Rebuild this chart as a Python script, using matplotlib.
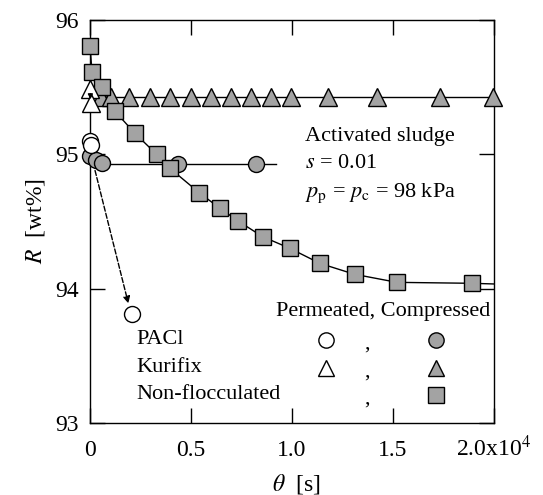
import matplotlib
matplotlib.use("Agg")
import matplotlib.pyplot as plt

plt.rcParams['font.family'] = ['Liberation Serif', 'DejaVu Serif']
plt.rcParams['mathtext.fontset'] = 'stix'

# Data (theta in s, R in wt%)
sq_x = [0, 100, 610, 1240, 2230, 3300, 3960, 5410, 6440, 7340, 8550, 9900, 11390, 13100, 15200, 18900]
sq_y = [95.81, 95.615, 95.50, 95.32, 95.156, 95.00, 94.896, 94.714, 94.598, 94.503, 94.387, 94.30, 94.188, 94.107, 94.047, 94.04]
fit_sq_x = sq_x + [20000]
fit_sq_y = sq_y + [94.035]

tri_c_x = [530, 1040, 1950, 2970, 3960, 4980, 5970, 6960, 7950, 8940, 9950, 11800, 14200, 17330, 19970]
tri_c_y = [95.43] * len(tri_c_x)
tri_line_x = [500, 20000]
tri_line_y = [95.43, 95.43]

tri_p_x = [0, 50]
tri_p_y = [95.49, 95.38]

circ_c_x = [0, 300, 580, 4370, 8220]
circ_c_y = [94.99, 94.958, 94.935, 94.928, 94.925]
circ_line_x = [580, 9200]
circ_line_y = [94.93, 94.93]

circ_p_x = [0, 30, 2060]
circ_p_y = [95.10, 95.07, 93.81]

x_ticks = [0, 5000, 10000, 15000, 20000]
x_tick_labels = ['0', '0.5', '1.0', '1.5', r'2.0x10$^4$']
y_ticks = [93, 94, 95, 96]
y_tick_labels = ['93', '94', '95', '96']

gray = '#a3a3a3'

fig = plt.figure(figsize=(5.43, 4.95), dpi=100)
ax = fig.add_axes([0.1657, 0.1455, 0.744, 0.814])

ms = 11.5
ax.plot(fit_sq_x, fit_sq_y, '-', color='black', lw=1.0, zorder=2)
ax.plot(tri_line_x, tri_line_y, '-', color='black', lw=1.0, zorder=2)
ax.plot(circ_line_x, circ_line_y, '-', color='black', lw=1.0, zorder=2)

ax.plot(tri_c_x, tri_c_y, '^', ms=ms + 1, mfc=gray, mec='black', mew=1.0, ls='none', clip_on=False, zorder=3)
ax.plot(circ_c_x, circ_c_y, 'o', ms=ms, mfc=gray, mec='black', mew=1.0, ls='none', clip_on=False, zorder=3)
ax.plot(sq_x, sq_y, 's', ms=ms, mfc=gray, mec='black', mew=1.0, ls='none', clip_on=False, zorder=4)
ax.plot(tri_p_x, tri_p_y, '^', ms=ms + 1, mfc='white', mec='black', mew=1.0, ls='none', clip_on=False, zorder=5)
ax.plot(circ_p_x, circ_p_y, 'o', ms=ms, mfc='white', mec='black', mew=1.0, ls='none', clip_on=False, zorder=5)

# dashed arrow from compressed PACl to shifted point
ax.annotate('', xy=(1900, 93.89), xytext=(250, 94.88),
            arrowprops=dict(arrowstyle='-|>', ls='--', color='black', lw=1.0,
                            mutation_scale=10, shrinkA=0, shrinkB=0))
# small solid arrow between permeated triangles
ax.annotate('', xy=(20, 95.41), xytext=(20, 95.45),
            arrowprops=dict(arrowstyle='-|>', color='black', lw=1.0,
                            mutation_scale=7, shrinkA=0, shrinkB=0), zorder=6)

ax.set_xlim(0, 20000)
ax.set_ylim(93, 96)
ax.set_xticks(x_ticks)
ax.set_xticklabels(x_tick_labels)
ax.set_yticks(y_ticks)
ax.set_yticklabels(y_tick_labels)
ax.tick_params(direction='in', length=11, width=1.0, labelsize=17, top=True, right=True)
ax.tick_params(axis='x', pad=24)
ax.tick_params(axis='y', pad=8)
for lbl in ax.get_xticklabels():
    lbl.set_verticalalignment('baseline')
for sp in ax.spines.values():
    sp.set_linewidth(1.0)

fig.text(0.545, 0.022, r'$\theta$  [s]', fontsize=17, ha='center', va='center')
ax.set_ylabel(r'$R$  [wt%]', fontsize=17, labelpad=6)

fs = 16
ax.text(10650, 95.13, 'Activated sludge', fontsize=fs, va='center')
ax.text(10650, 94.93, r'$s$ = 0.01', fontsize=fs, va='center')
ax.text(10650, 94.71, r'$p_{\rm p}$ = $p_{\rm c}$ = 98 kPa', fontsize=fs, va='center')

ax.text(19800, 93.83, 'Permeated, Compressed', fontsize=fs, va='center', ha='right')
rows = [('PACl', 'o', 93.62, True), ('Kurifix', '^', 93.41, True), ('Non-flocculated', 's', 93.21, False)]
for lab, mk, yy, has_open in rows:
    ax.text(2300, yy, lab, fontsize=fs, va='center')
    if has_open:
        ax.plot([11700], [yy], mk, ms=ms - 0.5, mfc='white', mec='black', mew=1.0)
    ax.text(13700, yy - 0.03, ',', fontsize=fs, va='center', ha='center')
    ax.plot([17150], [yy], mk, ms=ms - 0.5, mfc=gray, mec='black', mew=1.0)

fig.savefig('out.png', dpi=100)
